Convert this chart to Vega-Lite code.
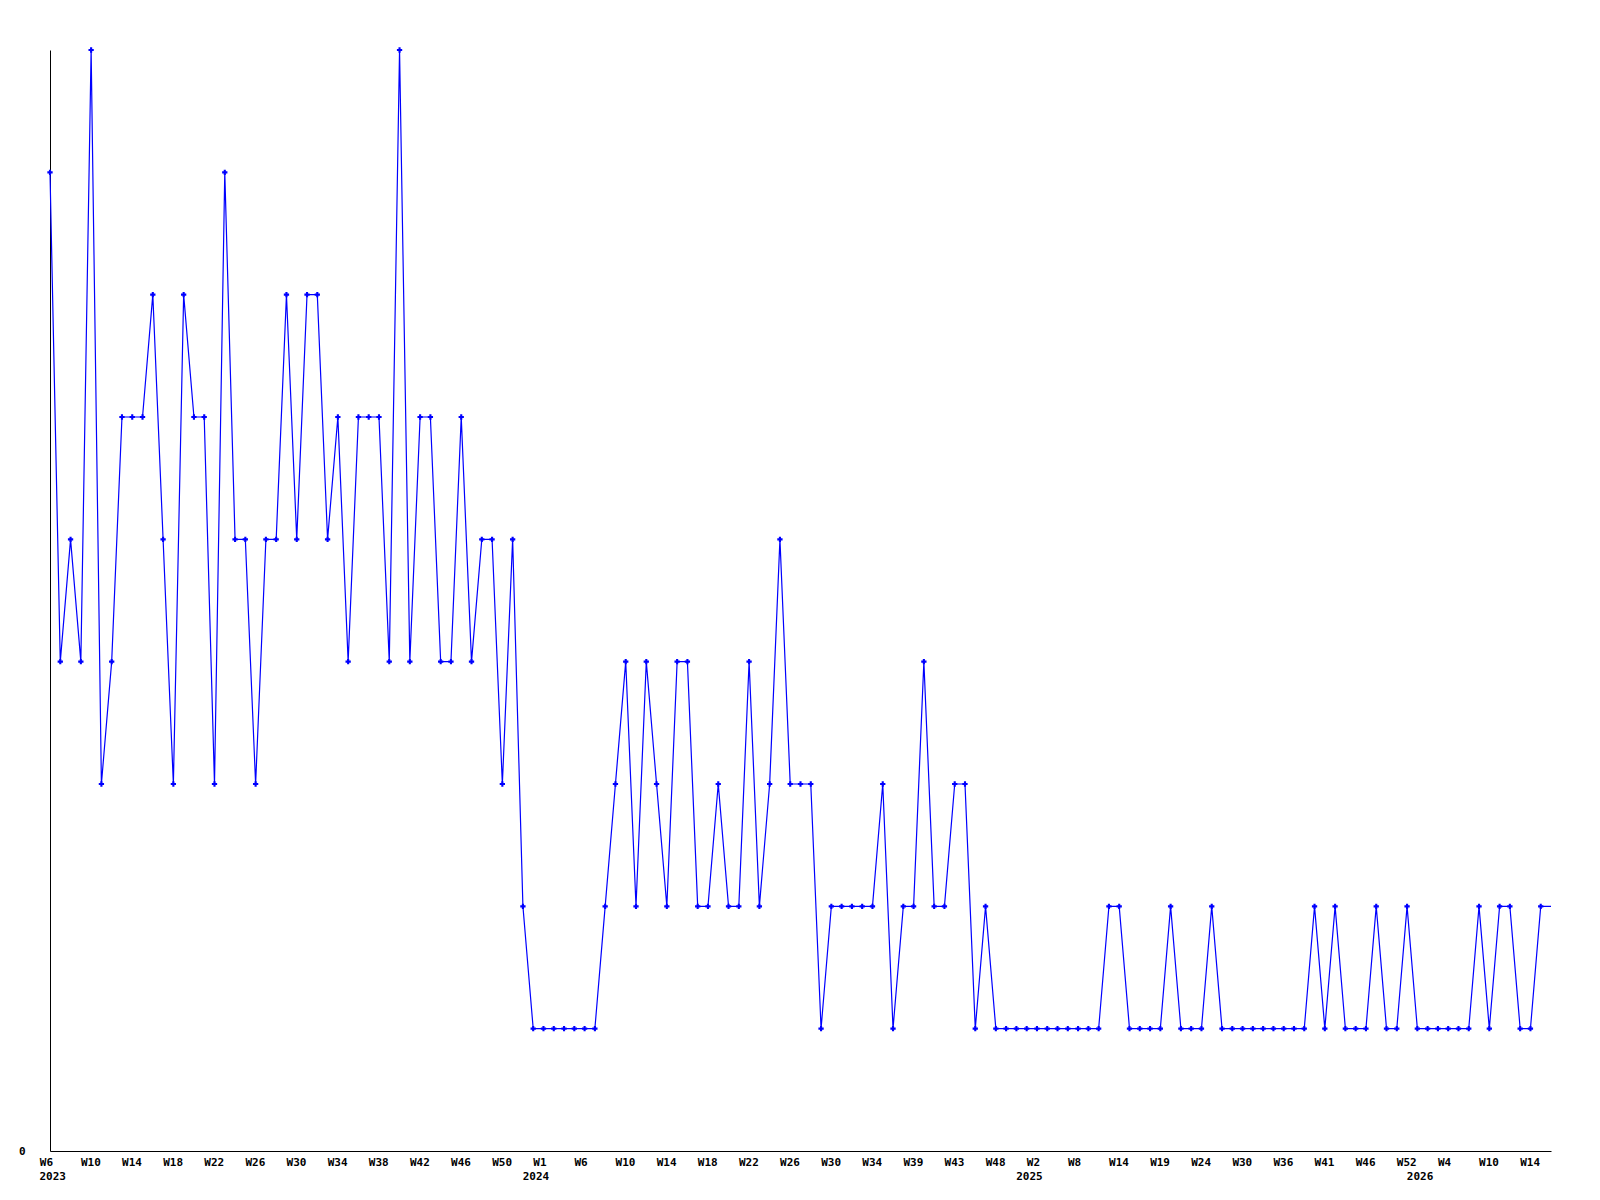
{
 "$schema": "https://vega.github.io/schema/vega-lite/v6.json",
 "autosize": "none",
 "padding": {"left": 50, "top": 50, "right": 49, "bottom": 49},
 "width": 1501,
 "height": 1101,
 "background": "white",
 "config": {
  "view": {"stroke": null},
  "axis": {"labelFont": "DejaVu Sans Mono", "labelFontWeight": "bold", "labelFontSize": 11, "labelColor": "#000000", "domainColor": "#000000", "domainWidth": 1, "grid": false, "ticks": false, "tickSize": 0, "title": null}
 },
 "data": {"values": [
  {"k":"2023-W06","v":8},{"k":"2023-W07","v":4},{"k":"2023-W08","v":5},{"k":"2023-W09","v":4},{"k":"2023-W10","v":9},
  {"k":"2023-W11","v":3},{"k":"2023-W12","v":4},{"k":"2023-W13","v":6},{"k":"2023-W14","v":6},{"k":"2023-W15","v":6},
  {"k":"2023-W16","v":7},{"k":"2023-W17","v":5},{"k":"2023-W18","v":3},{"k":"2023-W19","v":7},{"k":"2023-W20","v":6},
  {"k":"2023-W21","v":6},{"k":"2023-W22","v":3},{"k":"2023-W23","v":8},{"k":"2023-W24","v":5},{"k":"2023-W25","v":5},
  {"k":"2023-W26","v":3},{"k":"2023-W27","v":5},{"k":"2023-W28","v":5},{"k":"2023-W29","v":7},{"k":"2023-W30","v":5},
  {"k":"2023-W31","v":7},{"k":"2023-W32","v":7},{"k":"2023-W33","v":5},{"k":"2023-W34","v":6},{"k":"2023-W35","v":4},
  {"k":"2023-W36","v":6},{"k":"2023-W37","v":6},{"k":"2023-W38","v":6},{"k":"2023-W39","v":4},{"k":"2023-W40","v":9},
  {"k":"2023-W41","v":4},{"k":"2023-W42","v":6},{"k":"2023-W43","v":6},{"k":"2023-W44","v":4},{"k":"2023-W45","v":4},
  {"k":"2023-W46","v":6},{"k":"2023-W47","v":4},{"k":"2023-W48","v":5},{"k":"2023-W49","v":5},{"k":"2023-W50","v":3},
  {"k":"2023-W51","v":5},{"k":"2023-W52","v":2},
  {"k":"2024-W00","v":1},{"k":"2024-W01","v":1},{"k":"2024-W02","v":1},{"k":"2024-W03","v":1},{"k":"2024-W04","v":1},
  {"k":"2024-W06","v":1},{"k":"2024-W07","v":1},{"k":"2024-W08","v":2},{"k":"2024-W09","v":3},{"k":"2024-W10","v":4},
  {"k":"2024-W11","v":2},{"k":"2024-W12","v":4},{"k":"2024-W13","v":3},{"k":"2024-W14","v":2},{"k":"2024-W15","v":4},
  {"k":"2024-W16","v":4},{"k":"2024-W17","v":2},{"k":"2024-W18","v":2},{"k":"2024-W19","v":3},{"k":"2024-W20","v":2},
  {"k":"2024-W21","v":2},{"k":"2024-W22","v":4},{"k":"2024-W23","v":2},{"k":"2024-W24","v":3},{"k":"2024-W25","v":5},
  {"k":"2024-W26","v":3},{"k":"2024-W27","v":3},{"k":"2024-W28","v":3},{"k":"2024-W29","v":1},{"k":"2024-W30","v":2},
  {"k":"2024-W31","v":2},{"k":"2024-W32","v":2},{"k":"2024-W33","v":2},{"k":"2024-W34","v":2},{"k":"2024-W35","v":3},
  {"k":"2024-W36","v":1},{"k":"2024-W38","v":2},{"k":"2024-W39","v":2},{"k":"2024-W40","v":4},{"k":"2024-W41","v":2},
  {"k":"2024-W42","v":2},{"k":"2024-W43","v":3},{"k":"2024-W44","v":3},{"k":"2024-W45","v":1},{"k":"2024-W46","v":2},
  {"k":"2024-W48","v":1},{"k":"2024-W49","v":1},{"k":"2024-W50","v":1},
  {"k":"2025-W00","v":1},{"k":"2025-W02","v":1},{"k":"2025-W03","v":1},{"k":"2025-W05","v":1},{"k":"2025-W06","v":1},
  {"k":"2025-W08","v":1},{"k":"2025-W09","v":1},{"k":"2025-W11","v":1},{"k":"2025-W12","v":2},{"k":"2025-W14","v":2},
  {"k":"2025-W15","v":1},{"k":"2025-W16","v":1},{"k":"2025-W18","v":1},{"k":"2025-W19","v":1},{"k":"2025-W20","v":2},
  {"k":"2025-W21","v":1},{"k":"2025-W23","v":1},{"k":"2025-W24","v":1},{"k":"2025-W25","v":2},{"k":"2025-W27","v":1},
  {"k":"2025-W28","v":1},{"k":"2025-W30","v":1},{"k":"2025-W31","v":1},{"k":"2025-W33","v":1},{"k":"2025-W34","v":1},
  {"k":"2025-W36","v":1},{"k":"2025-W37","v":1},{"k":"2025-W39","v":1},{"k":"2025-W40","v":2},{"k":"2025-W41","v":1},
  {"k":"2025-W42","v":2},{"k":"2025-W44","v":1},{"k":"2025-W45","v":1},{"k":"2025-W46","v":1},{"k":"2025-W48","v":2},
  {"k":"2025-W49","v":1},{"k":"2025-W51","v":1},{"k":"2025-W52","v":2},
  {"k":"2026-W00","v":1},{"k":"2026-W01","v":1},{"k":"2026-W03","v":1},{"k":"2026-W04","v":1},{"k":"2026-W05","v":1},
  {"k":"2026-W07","v":1},{"k":"2026-W08","v":2},{"k":"2026-W10","v":1},{"k":"2026-W11","v":2},{"k":"2026-W12","v":2},
  {"k":"2026-W13","v":1},{"k":"2026-W14","v":1},{"k":"2026-W15","v":2},{"k":"2026-W16","v":2}
 ]},
 "encoding": {
  "y": {"field": "v", "type": "quantitative", "scale": {"domain": [0, 9], "nice": false, "zero": true},
        "axis": {"values": [0], "labelPadding": 25, "domain": true}}
 },
 "layer": [
  {
   "mark": {"type": "line", "color": "#0000ff", "strokeWidth": 1.2},
   "encoding": {
    "x": {"field": "k", "type": "ordinal", "scale": {"type": "point", "padding": 0},
          "axis": {"orient": "bottom",
                   "values": ["2023-W06","2023-W10","2023-W14","2023-W18","2023-W22","2023-W26","2023-W30","2023-W34","2023-W38","2023-W42","2023-W46","2023-W50","2024-W01","2024-W06","2024-W10","2024-W14","2024-W18","2024-W22","2024-W26","2024-W30","2024-W34","2024-W39","2024-W43","2024-W48","2025-W02","2025-W08","2025-W14","2025-W19","2025-W24","2025-W30","2025-W36","2025-W41","2025-W46","2025-W52","2026-W04","2026-W10","2026-W14"],
                   "labelExpr": "'W' + toNumber(substring(datum.value, 6, 8))",
                   "labelAlign": "left", "labelOffset": -10.7, "labelPadding": 5, "labelAngle": 0,
                   "labelOverlap": false, "labelFlush": false, "labelBound": false}}
   }
  },
  {
   "transform": [{"filter": "datum.k != '2026-W16'"}],
   "mark": {"type": "point", "shape": "cross", "filled": true, "size": 28, "color": "#0000ff", "opacity": 1},
   "encoding": {
    "x": {"field": "k", "type": "ordinal",
          "axis": {"orient": "bottom", "values": ["2023-W06","2024-W00","2025-W00","2026-W00"],
                   "labelExpr": "substring(datum.value, 0, 4)", "domain": false,
                   "labelAlign": "left", "labelOffset": -11, "labelPadding": 19.5, "labelAngle": 0,
                   "labelOverlap": false, "labelFlush": false, "labelBound": false}}
   }
  }
 ],
 "resolve": {"axis": {"x": "independent"}}
}
